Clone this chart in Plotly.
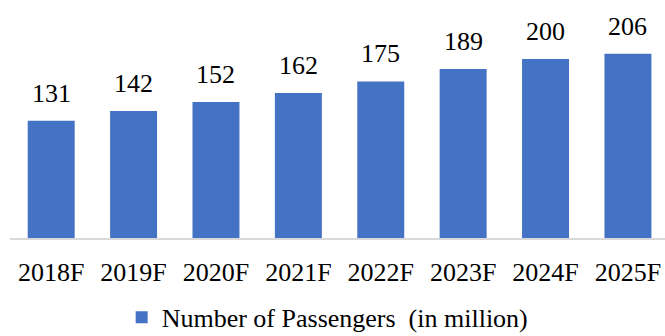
import plotly.graph_objects as go

years = ["2018F", "2019F", "2020F", "2021F", "2022F", "2023F", "2024F", "2025F"]
passengers = [131, 142, 152, 162, 175, 189, 200, 206]
series_name = "Number of Passengers \u00a0(in million)"

FONT = "Liberation Serif, Times New Roman, serif"

fig = go.Figure(
    go.Bar(
        x=years,
        y=passengers,
        name=series_name,
        marker=dict(color="#4472C4", line=dict(width=0)),
        showlegend=True,
    )
)

# value labels above each bar
for yr, v in zip(years, passengers):
    fig.add_annotation(
        x=yr,
        y=v,
        text=str(v),
        showarrow=False,
        yanchor="bottom",
        yshift=11,
        font=dict(family=FONT, size=26, color="#000000"),
    )

fig.update_layout(
    width=665,
    height=336,
    margin=dict(l=10, r=0, t=0, b=98, autoexpand=False),
    paper_bgcolor="white",
    plot_bgcolor="white",
    bargap=0.43,
    font=dict(family=FONT, size=26, color="#000000"),
    xaxis=dict(
        type="category",
        range=[-0.5, 7.45],
        showgrid=False,
        showline=True,
        linecolor="#d9d9d9",
        linewidth=2,
        ticks="outside",
        ticklen=10,
        tickcolor="rgba(0,0,0,0)",
        tickfont=dict(family=FONT, size=26, color="#000000"),
        fixedrange=True,
    ),
    yaxis=dict(
        range=[0, 266],
        visible=False,
        fixedrange=True,
    ),
    legend=dict(
        orientation="h",
        x=0.485,
        xanchor="center",
        y=-0.235,
        yanchor="top",
        font=dict(family=FONT, size=26, color="#000000"),
        itemwidth=30,
    ),
)

fig.write_html("out.html")
